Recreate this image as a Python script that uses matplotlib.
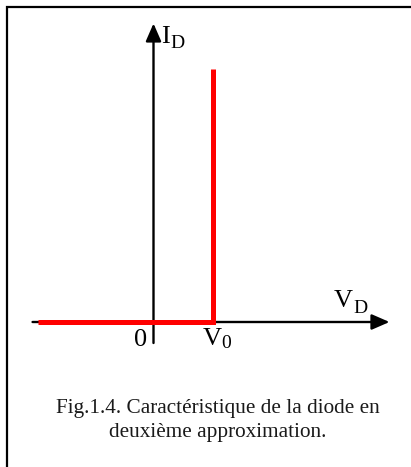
import matplotlib
matplotlib.use("Agg")
import matplotlib.pyplot as plt
from matplotlib.patches import Rectangle

plt.rcParams['font.family'] = ['Liberation Serif', 'DejaVu Serif']

# caractéristique idéalisée : courant nul jusqu'à V0, puis vertical
V0 = 1.0
v_diode = [-1.95, V0, V0]
i_diode = [0.0, 0.0, 1.0]

# étendue des axes (unités arbitraires)
v_axe = [-2.05, 4.0]
i_axe = [-0.083, 1.18]

legende = ["Fig.1.4. Caractéristique de la diode en",
           "deuxième approximation."]

W, H = 411, 467
fig = plt.figure(figsize=(W / 100, H / 100), dpi=100)
ax = fig.add_axes([0, 0, 1, 1])
ax.set_xlim(-153.5 / 59, (W - 153.5) / 59)
ax.set_ylim(-(H - 322) / 253, 322 / 253)
ax.axis('off')

# cadre de la figure
fig.patches.append(Rectangle((7 / W, -0.05), 1.1, 1 - 7 / H + 0.05,
                             transform=fig.transFigure, fill=False,
                             lw=1.6, edgecolor='black'))

fleche = dict(arrowstyle='-|>,head_length=1.08,head_width=0.47',
              mutation_scale=10, lw=1.7, color='black',
              shrinkA=0, shrinkB=0)
ax.annotate('', xy=(v_axe[1], 0), xytext=(v_axe[0], 0), arrowprops=fleche)
ax.annotate('', xy=(0, i_axe[1]), xytext=(0, i_axe[0]), arrowprops=fleche)

ax.plot(v_diode, i_diode, color='#ff0000', lw=3.6,
        solid_joinstyle='miter', solid_capstyle='butt', zorder=3)

# étiquettes des axes
def label(x, y, dx, dy, txt, size):
    ax.annotate(txt, xy=(x, y), xytext=(dx, dy), textcoords='offset pixels',
                ha='left', va='baseline', fontsize=size)

top = i_axe[1]
label(0, top, 8, -20, 'I', 19)
label(0, top, 17, -25, 'D', 14)
label(v_axe[1], 0, -56, 15, 'V', 19)
label(v_axe[1], 0, -36, 9, 'D', 14)
label(0, 0, -20, -24, '0', 19)
label(V0, 0, -10, -23, 'V', 19)
label(V0, 0, 9, -26, '0', 14)

fig.text(218 / W, 1 - 413 / H, legende[0], ha='center', va='baseline',
         fontsize=15.3, color='#1a1a1a')
fig.text(218 / W, 1 - 437 / H, legende[1], ha='center', va='baseline',
         fontsize=15.3, color='#1a1a1a')

fig.savefig('out.png', dpi=100)
